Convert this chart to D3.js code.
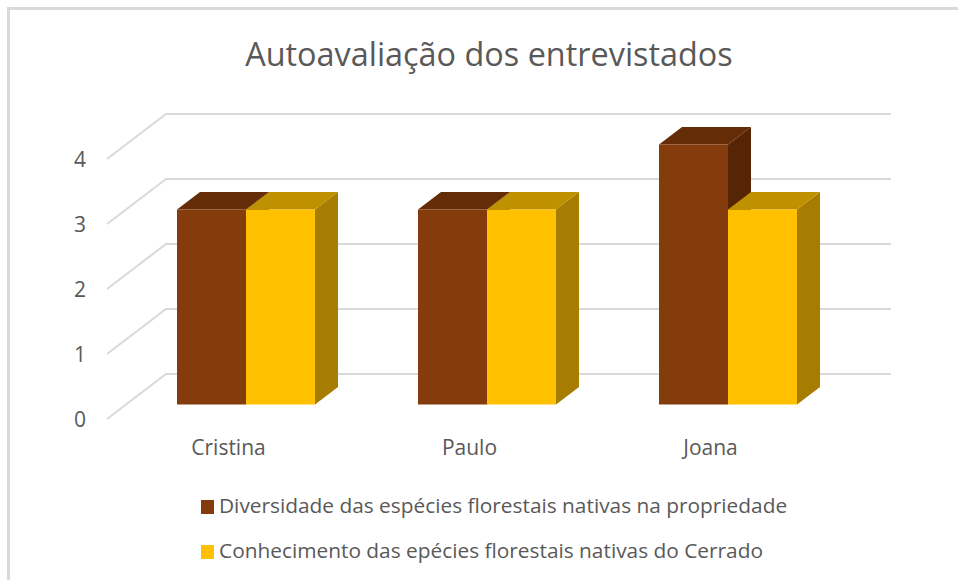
<!DOCTYPE html>
<html>
<head>
  <meta charset="utf-8">
  <title>Autoavaliação dos entrevistados</title>
  <script src="https://d3js.org/d3.v7.min.js"></script>
  <style>
    html, body { margin: 0; padding: 0; background: #fff; }
    svg { display: block; font-family: "Open Sans", sans-serif; }
    .axis-label { font-size: 21px; fill: #595959; }
    .legend-label { font-size: 20.85px; fill: #595959; }
    .chart-title { font-size: 32.4px; fill: #595959; }
    .grid { stroke: #d9d9d9; stroke-width: 2; fill: none; }
  </style>
</head>
<body>
  <svg id="chart"></svg>
  <script>
    var categories = ["Cristina", "Paulo", "Joana"];
    var seriesNames = [
      "Diversidade das espécies florestais nativas na propriedade",
      "Conhecimento das epécies florestais nativas do Cerrado"
    ];
    var diversidade = [3, 3, 4];
    var conhecimento = [3, 3, 3];
    var yTicks = [0, 1, 2, 3, 4];

    var chartWidth = 958;
    var chartHeight = 580;

    // fake 3d: depth offsets from the front plane of the axis
    var wallDx = 59, wallDy = -45;
    var barDx = 18.5, barDy = -14.5;
    var depthDx = 23, depthDy = -17.5;

    var colors = [
      { front: "#843c0c", top: "#642d08", side: "#552506" },
      { front: "#ffc000", top: "#bf9000", side: "#a67d00" }
    ];

    var svg = d3.select("#chart")
      .attr("width", chartWidth)
      .attr("height", chartHeight);

    // chart frame, only the left and top edges are in the picture
    svg.append("path")
      .attr("d", "M8.5,580V8.5H958")
      .attr("fill", "none")
      .attr("stroke", "#d9d9d9")
      .attr("stroke-width", 3);

    svg.append("text")
      .attr("class", "chart-title")
      .attr("x", 489)
      .attr("y", 66)
      .attr("text-anchor", "middle")
      .text("Autoavaliação dos entrevistados");

    var yScale = d3.scaleLinear()
      .domain([0, 4])
      .range([419, 159]);

    var xScale = d3.scaleBand()
      .domain(categories)
      .range([107, 830]);

    var xSeries = d3.scaleBand()
      .domain([0, 1])
      .range([xScale.bandwidth() / 2 - 69, xScale.bandwidth() / 2 + 69]);

    // gridlines: wall line plus the slanted floor-side line
    svg.append("g").selectAll("path")
      .data(yTicks)
      .enter()
      .append("path")
      .attr("class", "grid")
      .attr("d", function(d) {
        var y = yScale(d);
        return "M107," + y + "L" + (107 + wallDx) + "," + (y + wallDy) + "H891";
      });

    // y axis labels
    svg.append("g").selectAll("text")
      .data(yTicks)
      .enter()
      .append("text")
      .attr("class", "axis-label")
      .attr("x", 80)
      .attr("y", d => yScale(d) + 8)
      .attr("text-anchor", "middle")
      .text(d => d);

    // category labels
    svg.append("g").selectAll("text")
      .data(categories)
      .enter()
      .append("text")
      .attr("class", "axis-label")
      .attr("x", d => xScale(d) + xScale.bandwidth() / 2 + 1)
      .attr("y", 455)
      .attr("text-anchor", "middle")
      .text(d => d);

    // bars, left series first so the right one covers its side face
    [diversidade, conhecimento].forEach(function(values, s) {
      var g = svg.append("g");
      values.forEach(function(v, i) {
        var x0 = xScale(categories[i]) + xSeries(s) + barDx;
        var w = xSeries.bandwidth();
        var top = yScale(v) + barDy;
        var bottom = yScale(0) + barDy;
        var c = colors[s];

        // side
        g.append("polygon")
          .attr("fill", c.side)
          .attr("points", [
            [x0 + w, top], [x0 + w + depthDx, top + depthDy],
            [x0 + w + depthDx, bottom + depthDy], [x0 + w, bottom]
          ].join(" "));
        // top
        g.append("polygon")
          .attr("fill", c.top)
          .attr("points", [
            [x0, top], [x0 + depthDx, top + depthDy],
            [x0 + w + depthDx, top + depthDy], [x0 + w, top]
          ].join(" "));
        // front
        g.append("rect")
          .attr("x", x0)
          .attr("y", top)
          .attr("width", w)
          .attr("height", bottom - top)
          .attr("fill", c.front);
      });
    });

    // legend
    var legendY = [507, 552];
    var legend = svg.append("g").selectAll("g")
      .data(seriesNames)
      .enter()
      .append("g");

    legend.append("rect")
      .attr("x", 201)
      .attr("y", (d, i) => legendY[i] - 7)
      .attr("width", 13)
      .attr("height", 14)
      .attr("fill", (d, i) => colors[i].front);

    legend.append("text")
      .attr("class", "legend-label")
      .attr("x", 219)
      .attr("y", (d, i) => legendY[i] + 6)
      .text(d => d);
  </script>
</body>
</html>
